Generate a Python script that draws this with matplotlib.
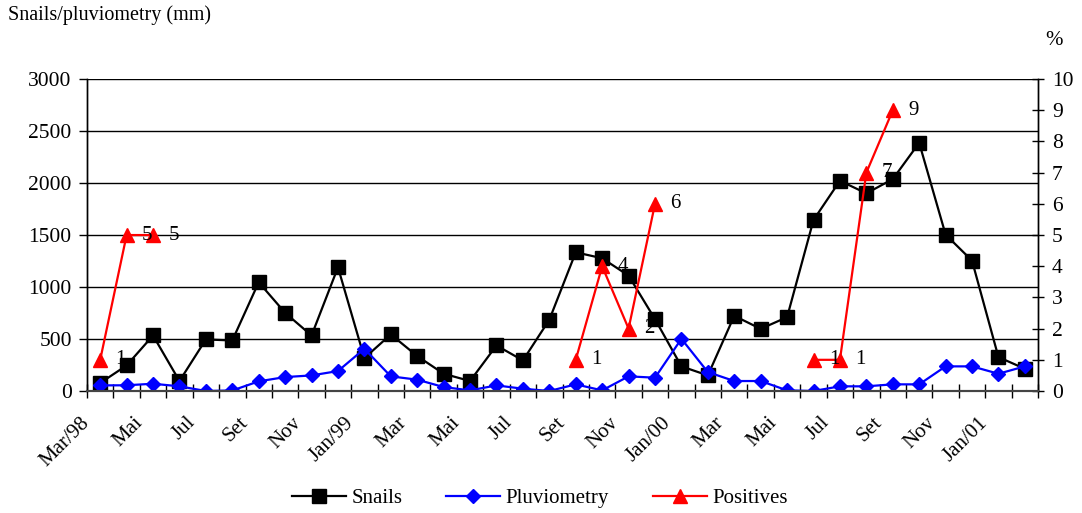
#!/usr/bin/env python3
"""Snails, pluviometry and positives per month, Mar/98 to Feb/01."""

import matplotlib

matplotlib.use("Agg")
import matplotlib.pyplot as plt
import matplotlib.transforms as mtransforms
import numpy as np

plt.rcParams["font.family"] = ["Liberation Serif", "DejaVu Serif"]

tick_labels = ["Mar/98", "Mai", "Jul", "Set", "Nov", "Jan/99", "Mar", "Mai", "Jul",
               "Set", "Nov", "Jan/00", "Mar", "Mai", "Jul", "Set", "Nov", "Jan/01"]

snails = [77, 246, 534, 96, 496, 486, 1046, 752, 534, 1190, 317, 544,
          336, 166, 96, 438, 294, 685, 1334, 1277, 1110, 691, 237, 150,
          723, 598, 710, 1645, 2022, 1901, 2038, 2387, 1504, 1254, 326, 214]

pluviometry = [54, 55, 70, 45, 0, 5, 93, 134, 150, 192, 406, 141,
               109, 38, 6, 54, 22, 0, 64, 6, 141, 128, 502, 182,
               96, 96, 6, 0, 45, 45, 64, 64, 237, 237, 166, 237]

positives = [1, 5, 5, None, None, None, None, None, None, None, None, None,
             None, None, None, None, None, None, 1, 4, 2, 6, None, None,
             None, None, None, 1, 1, 7, 9, None, None, None, None, None]


def main() -> None:
    n = len(snails)
    x = np.arange(n)
    pos = np.array([np.nan if v is None else v for v in positives], dtype=float)

    fig = plt.figure(figsize=(10.82, 5.13), dpi=100)
    ax = fig.add_axes([0.0804, 0.2378, 0.879, 0.608])
    ax2 = ax.twinx()

    ax.set_zorder(ax2.get_zorder() + 1)
    ax.patch.set_visible(False)

    ax.plot(x, snails, color="black", lw=1.6, marker="s", ms=10, label="Snails")
    ax.plot(x, pluviometry, color="#0000ff", lw=1.6, marker="D", ms=7.5, label="Pluviometry")
    ax.plot(x, pos * 300, color="#ff0000", lw=1.6, marker="^", ms=10, label="Positives")

    for xi, v in zip(x, pos):
        if not np.isnan(v):
            ax.annotate(f"{int(v)}", (xi, v * 300), xytext=(11, 0), textcoords="offset points",
                        ha="left", va="center", fontsize=15)

    ax.set_xlim(-0.5, n - 0.5)
    ax.set_ylim(0, 3000)
    ax.set_yticks(np.arange(0, 3001, 500))
    ax.grid(axis="y", color="black", lw=1)
    ax.set_axisbelow(True)
    ax.tick_params(axis="y", labelsize=15.5, direction="out", length=6, width=1, pad=5)

    ax.set_xticks(np.arange(0, n, 2))
    ax.set_xticklabels(tick_labels, rotation=45, ha="right", rotation_mode="anchor", fontsize=15)
    ax.tick_params(axis="x", which="major", length=0, pad=16)
    ax.set_xticks(np.arange(-0.5, n, 1), minor=True)
    ax.tick_params(axis="x", which="minor", direction="inout", length=10, width=1)
    shift = mtransforms.ScaledTranslation(-0.2, 0, fig.dpi_scale_trans)
    for lab in ax.get_xticklabels():
        lab.set_transform(lab.get_transform() + shift)

    ax2.set_ylim(0, 10)
    ax2.set_yticks(np.arange(0, 11, 1))
    ax2.tick_params(axis="y", labelsize=15.5, direction="inout", length=8, width=1, pad=6)

    for a in (ax, ax2):
        a.spines["top"].set_visible(False)
        a.spines["left"].set_linewidth(1)
        a.spines["right"].set_linewidth(1)
        a.spines["bottom"].set_linewidth(1.5)
        a.spines["bottom"].set_color("#444444")

    fig.text(0.007, 0.97, "Snails/pluviometry (mm)", fontsize=14.5, ha="left", va="center")
    fig.text(0.974, 0.922, "%", fontsize=15, ha="center", va="center")

    ax.legend(loc="center", bbox_to_anchor=(0.476, -0.345), ncol=3, frameon=False,
              fontsize=15, handlelength=2.6, columnspacing=2.1, handletextpad=0.25)

    fig.savefig("out.png", dpi=100)
    plt.close(fig)


if __name__ == "__main__":
    main()
